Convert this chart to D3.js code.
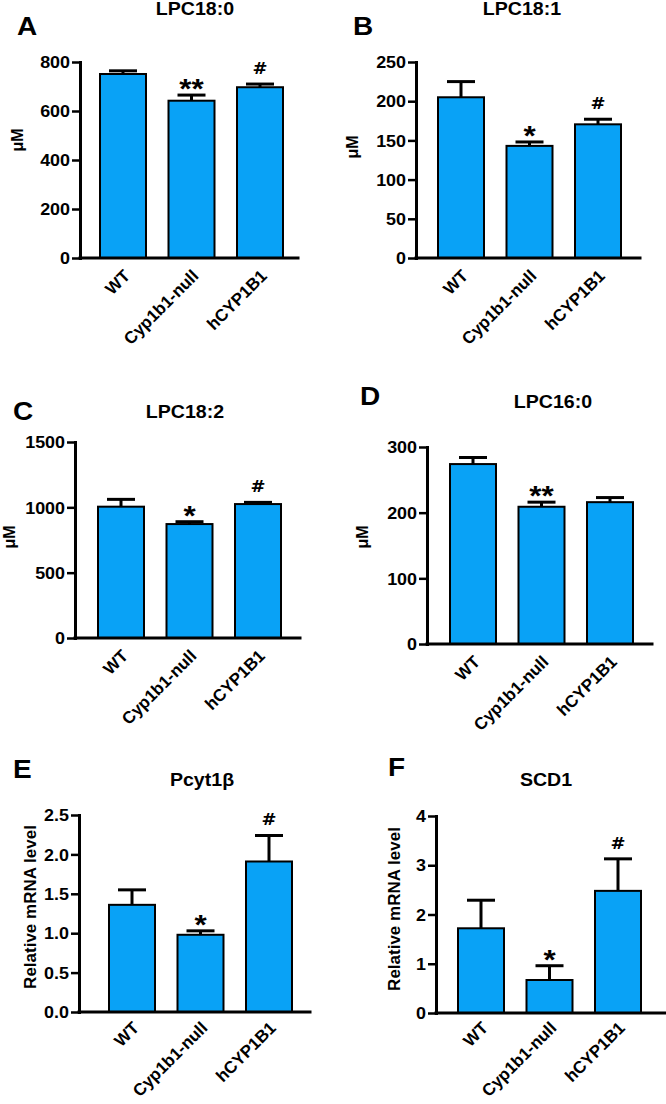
<!DOCTYPE html>
<html><head><meta charset="utf-8">
<script src="https://cdn.jsdelivr.net/npm/d3@7"></script>
<style>
body{margin:0;background:#fff}
svg{display:block}
text{font-family:"Liberation Sans",Arial,Helvetica,sans-serif;font-weight:bold;fill:#000}
text.hash{font-family:"DejaVu Sans","Liberation Sans",sans-serif}
</style>
</head><body>
<svg id="chart" width="666" height="1104"></svg>
<script>
// ---------- data ----------
const categories = ["WT", "Cyp1b1-null", "hCYP1B1"];
const panelLetters = ["A", "B", "C", "D", "E", "F"];
const panelTitles = ["LPC18:0", "LPC18:1", "LPC18:2", "LPC16:0", "Pcyt1β", "SCD1"];
const yLabels = ["μM", "μM", "μM", "μM", "Relative mRNA level", "Relative mRNA level"];

const meansA = [751, 642, 697];   const semA = [13, 23, 13];
const meansB = [205, 143, 170.5]; const semB = [20, 5, 6.5];
const meansC = [1005, 872, 1025]; const semC = [56, 18, 13];
const meansD = [274, 209, 216];   const semD = [10, 7, 7];
const meansE = [1.36, 0.98, 1.91]; const semE = [0.19, 0.05, 0.33];
const meansF = [1.72, 0.67, 2.48]; const semF = [0.57, 0.29, 0.65];

const ticksA = [0, 200, 400, 600, 800];
const ticksB = [0, 50, 100, 150, 200, 250];
const ticksC = [0, 500, 1000, 1500];
const ticksD = [0, 100, 200, 300];
const ticksE = [0, 0.5, 1.0, 1.5, 2.0, 2.5];
const ticksF = [0, 1, 2, 3, 4];

const markersA = ["", "**", "#"];
const markersB = ["", "*", "#"];
const markersC = ["", "*", "#"];
const markersD = ["", "**", ""];
const markersE = ["", "*", "#"];
const markersF = ["", "*", "#"];

// ---------- layout (not data) ----------
const SX = 1.12;            // horizontal stretch of upright text
const BAR_FILL = "#09a2f6";
const panels = [
  {means: meansA, sem: semA, ticks: ticksA, markers: markersA, fmt: d3.format("d"),
   ax: 80, axEnd: 298, y0: 258, yTop: 62, off: 20, letter: [17, 35], title: [195, 15], yl: [23, 140], ylSize: 16, lbl: [8, 19]},
  {means: meansB, sem: semB, ticks: ticksB, markers: markersB, fmt: d3.format("d"),
   ax: 416, axEnd: 640, y0: 258, yTop: 62, off: 22, letter: [353, 35], title: [522, 15], yl: [358, 147], ylSize: 16, lbl: [8, 19]},
  {means: meansC, sem: semC, ticks: ticksC, markers: markersC, fmt: d3.format("d"),
   ax: 75, axEnd: 300, y0: 638, yTop: 442, off: 23, letter: [13, 420], title: [185, 418], yl: [15, 537], ylSize: 16, lbl: [8, 19]},
  {means: meansD, sem: semD, ticks: ticksD, markers: markersD, fmt: d3.format("d"),
   ax: 427, axEnd: 652, y0: 644, yTop: 447, off: 23, letter: [360, 405], title: [553, 408], yl: [368, 537], ylSize: 16, lbl: [8, 19]},
  {means: meansE, sem: semE, ticks: ticksE, markers: markersE, fmt: d3.format(".1f"),
   ax: 79, axEnd: 310, y0: 1012, yTop: 815, off: 30, letter: [13, 778], title: [202, 786], yl: [36, 907], ylSize: 17, lbl: [8, 17]},
  {means: meansF, sem: semF, ticks: ticksF, markers: markersF, fmt: d3.format("d"),
   ax: 436, axEnd: 665, y0: 1013, yTop: 816, off: 22, letter: [388, 776], title: [546, 786], yl: [400, 909], ylSize: 17, lbl: [8, 16]}
];
const STEP = 68.5, BW = 46, CAP = 28;

const svg = d3.select("#chart");

function upright(g, x, y, txt, size, anchor) {
  return g.append("text")
    .attr("transform", `translate(${x},${y}) scale(${SX},1)`)
    .attr("text-anchor", anchor)
    .attr("font-size", size)
    .text(txt);
}

panels.forEach((p, i) => {
  const g = svg.append("g");
  const yMax = p.ticks[p.ticks.length - 1];
  const y = d3.scaleLinear().domain([0, yMax]).range([p.y0, p.yTop]);
  const r0 = p.ax + p.off - (STEP - BW) / 2;
  const x = d3.scaleBand().domain(categories)
    .range([r0, r0 + STEP * categories.length])
    .paddingInner(1 - BW / STEP).paddingOuter((1 - BW / STEP) / 2);

  // panel letter and title
  upright(g, p.letter[0], p.letter[1], panelLetters[i], 25, "start");
  upright(g, p.title[0], p.title[1], panelTitles[i], 17.5, "middle");

  // bars
  g.selectAll("rect.bar").data(categories).join("rect")
    .attr("class", "bar")
    .attr("x", d => x(d))
    .attr("width", x.bandwidth())
    .attr("y", (d, j) => y(p.means[j]))
    .attr("height", (d, j) => p.y0 - y(p.means[j]))
    .attr("fill", BAR_FILL)
    .attr("stroke", "#000")
    .attr("stroke-width", 2);

  // error bars (upper only)
  categories.forEach((c, j) => {
    const cx = x(c) + x.bandwidth() / 2;
    const top = y(p.means[j] + p.sem[j]);
    g.append("line").attr("x1", cx).attr("x2", cx)
      .attr("y1", y(p.means[j])).attr("y2", top)
      .attr("stroke", "#000").attr("stroke-width", 3);
    g.append("line").attr("x1", cx - CAP / 2).attr("x2", cx + CAP / 2)
      .attr("y1", top).attr("y2", top)
      .attr("stroke", "#000").attr("stroke-width", 3);
    const m = p.markers[j];
    if (m) {
      if (m.startsWith("*")) upright(g, cx, top + 3, m, 28, "middle");
      else upright(g, cx, top - 10, m, 16, "middle").attr("class", "hash");
    }
  });

  // y axis
  const yAxis = d3.axisLeft(y).tickValues(p.ticks).tickFormat(p.fmt)
    .tickSize(8).tickSizeOuter(0).tickPadding(2);
  const ya = g.append("g").attr("transform", `translate(${p.ax},0)`).call(yAxis);
  ya.attr("font-size", null).attr("font-family", null);
  ya.select(".domain").attr("stroke-width", 3).attr("stroke-linecap", "square");
  ya.selectAll(".tick line").attr("stroke-width", 2.5);
  ya.selectAll(".tick text")
    .attr("font-size", 16)
    .attr("x", null).attr("dy", null)
    .attr("transform", `translate(-10,5.7) scale(${SX},1)`);

  // x axis
  const xAxis = d3.axisBottom(x).tickSize(0).tickSizeOuter(0).tickPadding(0);
  const xa = g.append("g").attr("transform", `translate(0,${p.y0})`).call(xAxis);
  xa.attr("font-size", null).attr("font-family", null);
  xa.select(".domain").remove();
  xa.selectAll(".tick text")
    .attr("font-size", 17)
    .attr("y", 0).attr("dy", 0).attr("x", 0)
    .attr("text-anchor", "end")
    .attr("transform", `translate(${p.lbl[0]},${p.lbl[1]}) rotate(-45)`);
  g.append("line").attr("x1", p.ax).attr("x2", p.axEnd)
    .attr("y1", p.y0).attr("y2", p.y0)
    .attr("stroke", "#000").attr("stroke-width", 3).attr("stroke-linecap", "square");

  // y label
  g.append("text")
    .attr("transform", `translate(${p.yl[0]},${p.yl[1]}) rotate(-90)`)
    .attr("text-anchor", "middle")
    .attr("font-size", p.ylSize)
    .text(yLabels[i]);
});
</script>
</body></html>
